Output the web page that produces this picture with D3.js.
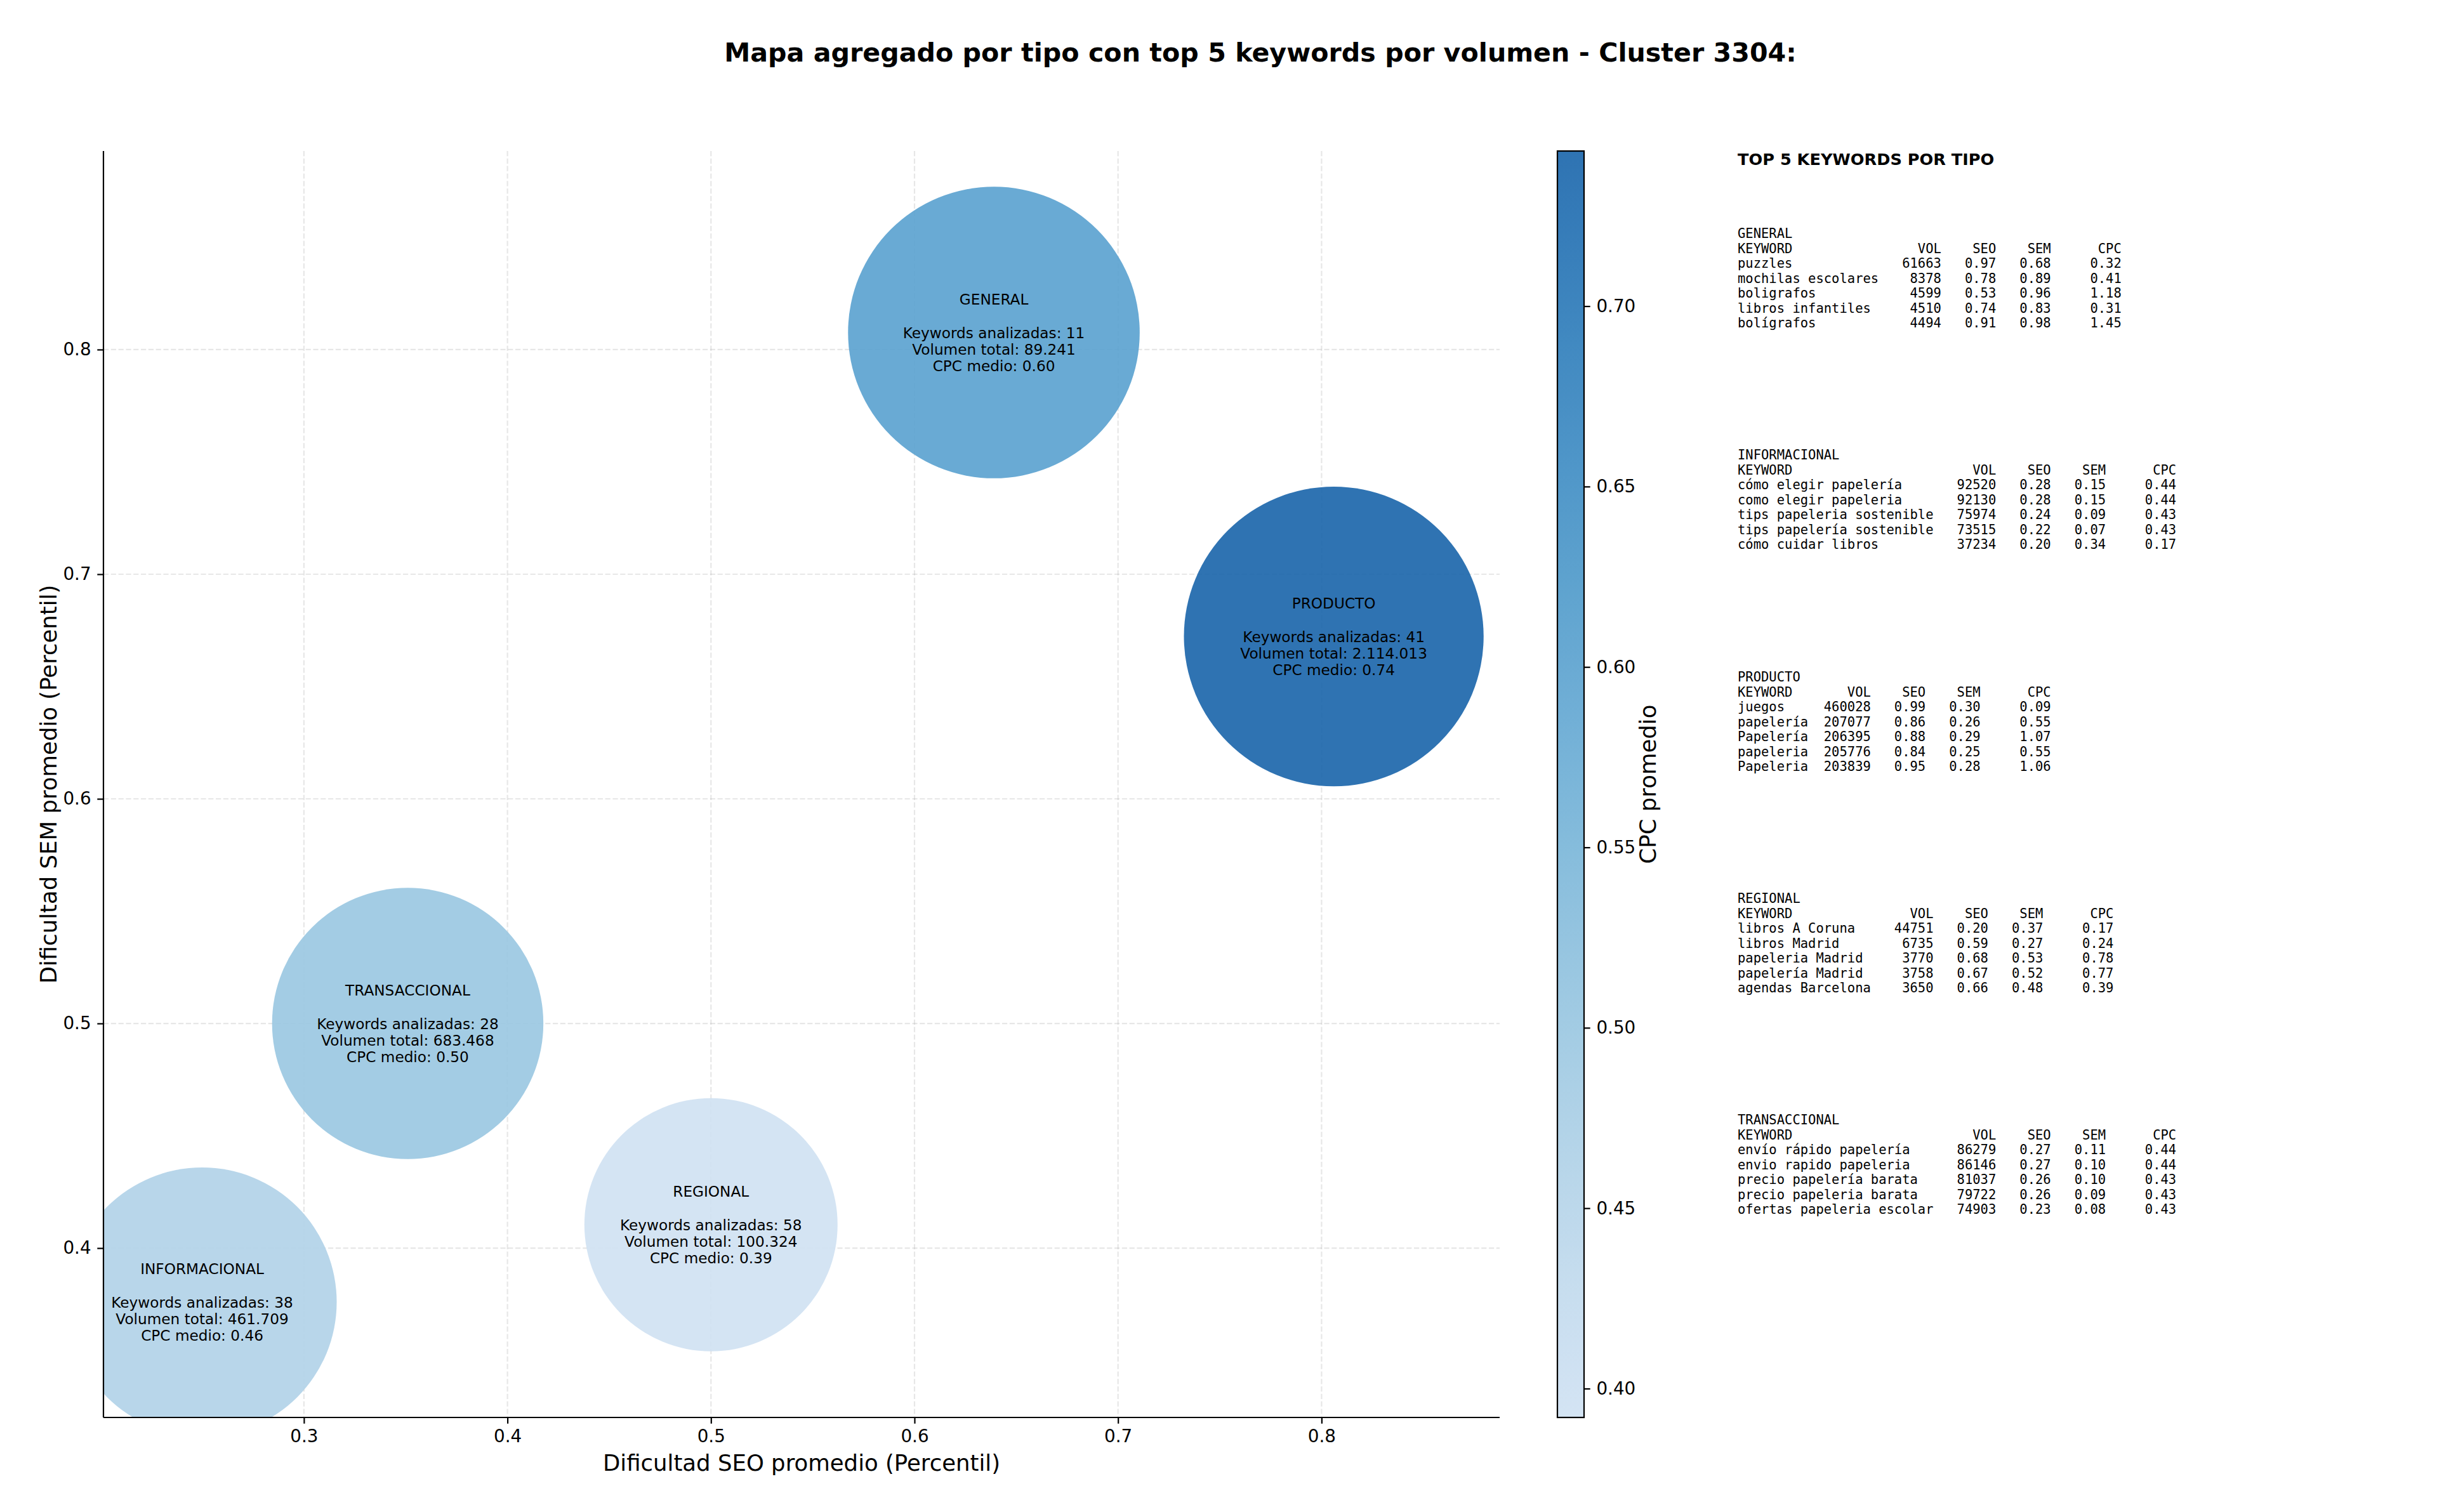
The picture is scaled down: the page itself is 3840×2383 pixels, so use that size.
<!DOCTYPE html>
<html><head><meta charset="utf-8">
<script src="https://cdn.jsdelivr.net/npm/d3@7"></script>
<style>
body{margin:0;background:#fff}
svg{display:block}
text{font-family:"DejaVu Sans",sans-serif;fill:#000}
.mono{font-family:"DejaVu Sans Mono",monospace;white-space:pre}
</style>
</head><body>
<svg id="chart" width="3840" height="2383" xmlns="http://www.w3.org/2000/svg"></svg>
<script>
// ---------- DATA ----------
const types = ["GENERAL", "INFORMACIONAL", "PRODUCTO", "REGIONAL", "TRANSACCIONAL"];
const seoAvg = [0.639, 0.250, 0.806, 0.500, 0.351];
const semAvg = [0.8076, 0.376, 0.6723, 0.4104, 0.500];
const cpcAvg = [0.60, 0.46, 0.743, 0.392, 0.50];
const kwCount = [11, 38, 41, 58, 28];
const volTotal = [89241, 461709, 2114013, 100324, 683468];
const markerArea = [21500, 18300, 22700, 16200, 18600]; // pt^2
const xTicks = [0.3, 0.4, 0.5, 0.6, 0.7, 0.8];
const yTicks = [0.4, 0.5, 0.6, 0.7, 0.8];
const cbTicks = [0.40, 0.45, 0.50, 0.55, 0.60, 0.65, 0.70];

const topGeneral = [
  ["puzzles", 61663, 0.97, 0.68, 0.32],
  ["mochilas escolares", 8378, 0.78, 0.89, 0.41],
  ["boligrafos", 4599, 0.53, 0.96, 1.18],
  ["libros infantiles", 4510, 0.74, 0.83, 0.31],
  ["bolígrafos", 4494, 0.91, 0.98, 1.45]
];
const topInformacional = [
  ["cómo elegir papelería", 92520, 0.28, 0.15, 0.44],
  ["como elegir papeleria", 92130, 0.28, 0.15, 0.44],
  ["tips papeleria sostenible", 75974, 0.24, 0.09, 0.43],
  ["tips papelería sostenible", 73515, 0.22, 0.07, 0.43],
  ["cómo cuidar libros", 37234, 0.20, 0.34, 0.17]
];
const topProducto = [
  ["juegos", 460028, 0.99, 0.30, 0.09],
  ["papelería", 207077, 0.86, 0.26, 0.55],
  ["Papelería", 206395, 0.88, 0.29, 1.07],
  ["papeleria", 205776, 0.84, 0.25, 0.55],
  ["Papeleria", 203839, 0.95, 0.28, 1.06]
];
const topRegional = [
  ["libros A Coruna", 44751, 0.20, 0.37, 0.17],
  ["libros Madrid", 6735, 0.59, 0.27, 0.24],
  ["papeleria Madrid", 3770, 0.68, 0.53, 0.78],
  ["papelería Madrid", 3758, 0.67, 0.52, 0.77],
  ["agendas Barcelona", 3650, 0.66, 0.48, 0.39]
];
const topTransaccional = [
  ["envío rápido papelería", 86279, 0.27, 0.11, 0.44],
  ["envio rapido papeleria", 86146, 0.27, 0.10, 0.44],
  ["precio papelería barata", 81037, 0.26, 0.10, 0.43],
  ["precio papeleria barata", 79722, 0.26, 0.09, 0.43],
  ["ofertas papeleria escolar", 74903, 0.23, 0.08, 0.43]
];
const topByType = [topGeneral, topInformacional, topProducto, topRegional, topTransaccional];

const titleText = "Mapa agregado por tipo con top 5 keywords por volumen - Cluster 3304:";
const xLabel = "Dificultad SEO promedio (Percentil)";
const yLabel = "Dificultad SEM promedio (Percentil)";
const cbLabel = "CPC promedio";
const panelTitle = "TOP 5 KEYWORDS POR TIPO";

// ---------- LAYOUT ----------
const svg = d3.select("#chart");
const plot = {left: 163, right: 2363, top: 238, bottom: 2234};
const cb = {left: 2454, right: 2496};
const PX_PER_PT = 200 / 72;

const x = d3.scaleLinear().domain([0.2015, 0.8875]).range([plot.left, plot.right]);
const y = d3.scaleLinear().domain([0.3246, 0.8884]).range([plot.bottom, plot.top]);
const r = d3.scaleSqrt().domain([0, 1]).range([0, PX_PER_PT / Math.sqrt(Math.PI)]);
const cpcExtent = d3.extent(cpcAvg);
const color = d3.scaleSequential(t => d3.interpolateBlues(0.2 + 0.6 * t)).domain([0, 1]);
const cnorm = d3.scaleLinear().domain(cpcExtent).range([0, 1]);

// Title
svg.append("text").attr("x", 1986).attr("y", 83)
  .attr("text-anchor", "middle").attr("dominant-baseline", "central")
  .style("font-size", "41.2px").style("font-weight", "bold").text(titleText);

// Clip
svg.append("defs").append("clipPath").attr("id", "plotclip")
  .append("rect").attr("x", plot.left).attr("y", plot.top)
  .attr("width", plot.right - plot.left).attr("height", plot.bottom - plot.top);

// Grid
const grid = svg.append("g").attr("stroke", "#b0b0b0").attr("stroke-opacity", 0.3)
  .attr("stroke-width", 2.2).attr("stroke-dasharray", "8.2,3.6");
grid.selectAll("line.gx").data(xTicks).join("line")
  .attr("x1", d => x(d)).attr("x2", d => x(d)).attr("y1", plot.top).attr("y2", plot.bottom);
grid.selectAll("line.gy").data(yTicks).join("line")
  .attr("y1", d => y(d)).attr("y2", d => y(d)).attr("x1", plot.left).attr("x2", plot.right);

// Bubbles
const idx = d3.range(types.length);
svg.append("g").attr("clip-path", "url(#plotclip)")
  .selectAll("circle").data(idx).join("circle")
  .attr("cx", i => x(seoAvg[i])).attr("cy", i => y(semAvg[i]))
  .attr("r", i => r(markerArea[i]))
  .attr("fill", i => color(cnorm(cpcAvg[i])))
  .attr("fill-opacity", 0.9);

// Bubble labels
const fmtVol = v => d3.format(",")(v).replace(/,/g, ".");
const LH = 26.2;
const lbl = svg.append("g");
idx.forEach(i => {
  const lines = [types[i], "", "Keywords analizadas: " + kwCount[i],
    "Volumen total: " + fmtVol(volTotal[i]), "CPC medio: " + cpcAvg[i].toFixed(2)];
  const cx = x(seoAvg[i]), cy = y(semAvg[i]);
  lines.forEach((t, k) => {
    if (!t) return;
    lbl.append("text").attr("x", cx).attr("y", cy + (k - 2) * LH)
      .attr("text-anchor", "middle").attr("dominant-baseline", "central")
      .style("font-size", "23.2px").text(t);
  });
});

// Axes
const axisFont = "27.8px";
const gx = svg.append("g").attr("transform", `translate(0,${plot.bottom})`)
  .call(d3.axisBottom(x).tickValues(xTicks).tickFormat(d3.format(".1f")).tickSize(9.7).tickPadding(9.7));
const gy = svg.append("g").attr("transform", `translate(${plot.left},0)`)
  .call(d3.axisLeft(y).tickValues(yTicks).tickFormat(d3.format(".1f")).tickSize(9.7).tickPadding(9.7));
[gx, gy].forEach(g => {
  g.select(".domain").attr("stroke", "#000").attr("stroke-width", 2.2);
  g.selectAll(".tick line").attr("stroke", "#000").attr("stroke-width", 2.2);
  g.selectAll(".tick text").style("font-size", axisFont).style("font-family", "DejaVu Sans").attr("fill", "#000");
});
gx.select(".domain").attr("d", `M${plot.left},0H${plot.right}`);
gy.select(".domain").attr("d", `M0,${plot.bottom}V${plot.top}`);

svg.append("text").attr("x", (plot.left + plot.right) / 2).attr("y", 2305)
  .attr("text-anchor", "middle").attr("dominant-baseline", "central")
  .style("font-size", "35.5px").text(xLabel);
svg.append("text").attr("transform", `translate(76,${(plot.top + plot.bottom) / 2}) rotate(-90)`)
  .attr("text-anchor", "middle").attr("dominant-baseline", "central")
  .style("font-size", "35.5px").text(yLabel);

// Colorbar
const cbY = d3.scaleLinear().domain(cpcExtent).range([plot.bottom, plot.top]);
const grad = svg.select("defs").append("linearGradient").attr("id", "cbgrad")
  .attr("x1", 0).attr("y1", 1).attr("x2", 0).attr("y2", 0);
d3.range(0, 1.0001, 0.05).forEach(t => {
  grad.append("stop").attr("offset", t).attr("stop-color", color(t));
});
svg.append("rect").attr("x", cb.left).attr("y", plot.top)
  .attr("width", cb.right - cb.left).attr("height", plot.bottom - plot.top)
  .attr("fill", "url(#cbgrad)").attr("fill-opacity", 0.9);
svg.append("rect").attr("x", cb.left).attr("y", plot.top)
  .attr("width", cb.right - cb.left).attr("height", plot.bottom - plot.top)
  .attr("fill", "none").attr("stroke", "#000").attr("stroke-width", 2.2);
const gcb = svg.append("g").attr("transform", `translate(${cb.right},0)`)
  .call(d3.axisRight(cbY).tickValues(cbTicks).tickFormat(d3.format(".2f")).tickSize(9.7).tickPadding(9.7));
gcb.select(".domain").remove();
gcb.selectAll(".tick line").attr("stroke", "#000").attr("stroke-width", 2.2);
gcb.selectAll(".tick text").style("font-size", axisFont).style("font-family", "DejaVu Sans").attr("fill", "#000");
svg.append("text").attr("transform", `translate(2596,${(plot.top + plot.bottom) / 2}) rotate(-90)`)
  .attr("text-anchor", "middle").attr("dominant-baseline", "central")
  .style("font-size", "35.5px").text(cbLabel);

// Text panel
const panelX = 2738;
svg.append("text").attr("x", panelX).attr("y", 251).attr("dominant-baseline", "central")
  .style("font-size", "25.6px").style("font-weight", "bold").text(panelTitle);
const blockY = [368, 717, 1067, 1416, 1765];
const MLH = 23.5;
const panel = svg.append("g");
topByType.forEach((rows, b) => {
  const w = d3.max(rows, d => d[0].length);
  const lines = [types[b],
    "KEYWORD".padEnd(w) + "VOL".padStart(8) + "SEO".padStart(7) + "SEM".padStart(7) + "CPC".padStart(9)];
  rows.forEach(d => {
    lines.push(d[0].padEnd(w) + String(d[1]).padStart(8) + d[2].toFixed(2).padStart(7) +
      d[3].toFixed(2).padStart(7) + d[4].toFixed(2).padStart(9));
  });
  lines.forEach((t, k) => {
    panel.append("text").attr("class", "mono").attr("xml:space", "preserve")
      .attr("x", panelX).attr("y", blockY[b] + k * MLH).attr("dominant-baseline", "central")
      .style("font-size", "20.5px").text(t);
  });
});
</script>
</body></html>
